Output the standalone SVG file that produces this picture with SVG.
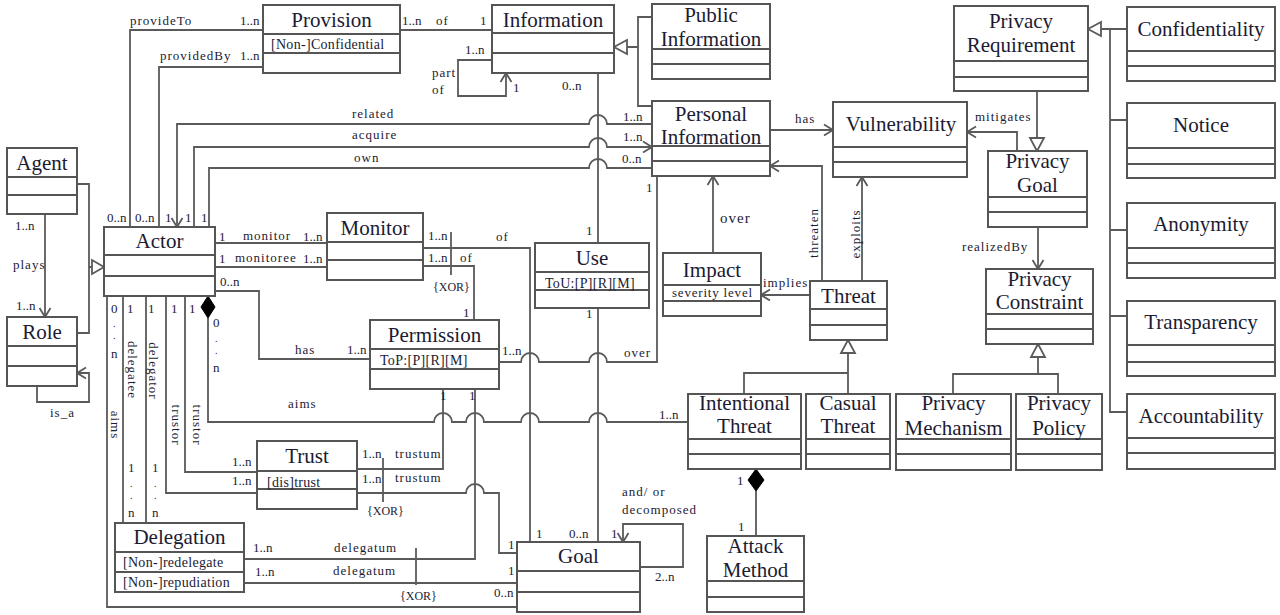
<svg xmlns="http://www.w3.org/2000/svg" width="1280" height="615" viewBox="0 0 1280 615">
<defs>
<style>
.box rect{fill:#fff;stroke:#555;stroke-width:2}
.box line{stroke:#555;stroke-width:2}
text{font-family:"Liberation Serif","Times New Roman",serif;fill:#1b1b33}
.nm{font-size:21px;text-anchor:middle}
.at{font-size:14px;letter-spacing:0.3px}
.sv{font-size:13px;letter-spacing:0.8px}
.lb{font-size:13px;letter-spacing:1px}
.mu{font-size:13px}
.dt{font-size:10px}
.xr{font-size:12px}
.rt{font-size:13px;letter-spacing:1px;text-anchor:middle;dominant-baseline:central}
.cn path,.cn line{fill:none;stroke:#5a5a5a;stroke-width:1.8}
.cn .tri{fill:#fff;stroke:#5a5a5a;stroke-width:1.8}
.cn .dia{fill:#000;stroke:#000;stroke-width:1}
.ar{marker-end:url(#arr)}
</style>
<marker id="arr" markerUnits="userSpaceOnUse" markerWidth="12" markerHeight="14" viewBox="0 0 12 14" refX="10" refY="7" orient="auto">
<path d="M1,1.5 L10,7 L1,12.5" fill="none" stroke="#5a5a5a" stroke-width="1.8"/>
</marker>
</defs>
<rect width="1280" height="615" fill="#fff"/>

<g class="cn" id="connectors">
<path d="M263,30 H130 V227"/>
<path d="M263,67 H159 V227"/>
<path d="M400,30 H492"/>
<path class="ar" d="M492,60 H458 V96 H506 V73"/>
<path d="M626,47 H638 M652,17 H638 V106 H652"/>
<polygon class="tri" points="614,47 627,40 627,54"/>
<path class="ar" d="M652,124 H607 a9,9 0 0 0 -18,0 H177 V227"/>
<path class="ar" d="M194,227 V147 H589 a9,9 0 0 1 18,0 H652"/>
<path d="M209,227 V168 H589 a9,9 0 0 1 18,0 H652"/>
<path d="M598,73 V243"/>
<path d="M598,308 V542"/>
<path class="ar" d="M770,130 H833"/>
<path class="ar" d="M713,253 V176"/>
<path class="ar" d="M822,281 V166 H770"/>
<path class="ar" d="M862,281 V177"/>
<path class="ar" d="M810,295 H761"/>
<path class="ar" d="M1017,151 V132 H967"/>
<path d="M1037,91 V138"/>
<polygon class="tri" points="1037,151 1030,138 1044,138"/>
<path class="ar" d="M1038,227 V269"/>
<polygon class="tri" points="1088,29 1101,22 1101,36"/>
<path d="M1101,29 H1127 M1110,29 V412 H1127 M1110,120 H1127 M1110,230 H1127 M1110,316 H1127"/>
<polygon class="tri" points="1038,344 1031,357 1045,357"/>
<path d="M1038,357 V374 M953,394 V374 H1058 V394"/>
<polygon class="tri" points="848,340 841,353 855,353"/>
<path d="M848,353 V394 M744,394 V373 H848"/>
<path d="M756,491 V536"/>
<polygon class="dia" points="756,469 764,480 756,491 748,480"/>
<path class="ar" d="M45,214 V317"/>
<polygon class="tri" points="104,267 92,260 92,274"/>
<path d="M92,267 H89 M77,184 H89 V333 H77"/>
<path class="ar" d="M37,386 V402 H89 V373 H77"/>
<path d="M215,243 H327"/>
<path d="M215,267 H327"/>
<path d="M423,248 H530 V542"/>
<path d="M423,266 H474 V320"/>
<line x1="451" y1="232" x2="451" y2="275"/>
<path d="M215,291 H259 V359 H370"/>
<path d="M499,362 H521 a9,9 0 0 1 18,0 H589 a9,9 0 0 1 18,0 H657 V176"/>
<path d="M208,318 V422 H434 a9,9 0 0 1 18,0 H466 a9,9 0 0 1 18,0 H521 a9,9 0 0 1 18,0 H589 a9,9 0 0 1 18,0 H688"/>
<polygon class="dia" points="208,296 215,307 208,318 201,307"/>
<path d="M107,296 V607 H517"/>
<path d="M123,296 V523"/>
<path d="M146,296 V523"/>
<path d="M166,296 V493 H257"/>
<path d="M185,296 V472 H257"/>
<path d="M357,469 H443 V389"/>
<path d="M357,493 H466 a9,9 0 0 1 18,0 H499 V553 H517"/>
<line x1="383" y1="458" x2="383" y2="502"/>
<path d="M244,559 H475 V389"/>
<path d="M244,583 H517"/>
<line x1="416" y1="548" x2="416" y2="585"/>
<path class="ar" d="M640,567 H683 V524 H623 V542"/>
</g>

<g id="provision" class="box"><rect x="263" y="5" width="137" height="68"/><line x1="263" y1="34" x2="400" y2="34"/><line x1="263" y1="53" x2="400" y2="53"/><text class="nm" x="331.5" y="27">Provision</text><text class="at" x="271" y="49">[Non-]Confidential</text></g>
<g id="information" class="box"><rect x="492" y="5" width="122" height="68"/><line x1="492" y1="33" x2="614" y2="33"/><line x1="492" y1="53" x2="614" y2="53"/><text class="nm" x="553" y="27">Information</text></g>
<g id="publicInformation" class="box"><rect x="652" y="4" width="118" height="75"/><line x1="652" y1="49" x2="770" y2="49"/><line x1="652" y1="64" x2="770" y2="64"/><text class="nm" x="711" y="22">Public</text><text class="nm" x="711" y="46">Information</text></g>
<g id="personalInformation" class="box"><rect x="652" y="101" width="118" height="75"/><line x1="652" y1="146" x2="770" y2="146"/><line x1="652" y1="161" x2="770" y2="161"/><text class="nm" x="711" y="121">Personal</text><text class="nm" x="711" y="144">Information</text></g>
<g id="privacyRequirement" class="box"><rect x="954" y="6" width="134" height="85"/><line x1="954" y1="61" x2="1088" y2="61"/><line x1="954" y1="77" x2="1088" y2="77"/><text class="nm" x="1021" y="28">Privacy</text><text class="nm" x="1021" y="52">Requirement</text></g>
<g id="confidentiality" class="box"><rect x="1127" y="7" width="148" height="74"/><line x1="1127" y1="51" x2="1275" y2="51"/><line x1="1127" y1="66" x2="1275" y2="66"/><text class="nm" x="1201" y="36">Confidentiality</text></g>
<g id="notice" class="box"><rect x="1127" y="103" width="148" height="75"/><line x1="1127" y1="148" x2="1275" y2="148"/><line x1="1127" y1="164" x2="1275" y2="164"/><text class="nm" x="1201" y="132">Notice</text></g>
<g id="vulnerability" class="box"><rect x="833" y="102" width="134" height="75"/><line x1="833" y1="147" x2="967" y2="147"/><line x1="833" y1="162" x2="967" y2="162"/><text class="nm" x="901" y="131">Vulnerability</text></g>
<g id="privacyGoal" class="box"><rect x="988" y="151" width="99" height="76"/><line x1="988" y1="197" x2="1087" y2="197"/><line x1="988" y1="212" x2="1087" y2="212"/><text class="nm" x="1037.5" y="168">Privacy</text><text class="nm" x="1037.5" y="192">Goal</text></g>
<g id="privacyConstraint" class="box"><rect x="986" y="269" width="107" height="75"/><line x1="986" y1="314" x2="1093" y2="314"/><line x1="986" y1="329" x2="1093" y2="329"/><text class="nm" x="1039.5" y="286">Privacy</text><text class="nm" x="1039.5" y="309">Constraint</text></g>
<g id="anonymity" class="box"><rect x="1127" y="203" width="148" height="75"/><line x1="1127" y1="248" x2="1275" y2="248"/><line x1="1127" y1="263" x2="1275" y2="263"/><text class="nm" x="1201" y="231">Anonymity</text></g>
<g id="transparency" class="box"><rect x="1127" y="301" width="148" height="75"/><line x1="1127" y1="345" x2="1275" y2="345"/><line x1="1127" y1="362" x2="1275" y2="362"/><text class="nm" x="1201" y="329">Transparency</text></g>
<g id="accountability" class="box"><rect x="1127" y="394" width="148" height="75"/><line x1="1127" y1="438" x2="1275" y2="438"/><line x1="1127" y1="453" x2="1275" y2="453"/><text class="nm" x="1201" y="423">Accountability</text></g>
<g id="threat" class="box"><rect x="810" y="281" width="77" height="59"/><line x1="810" y1="309" x2="887" y2="309"/><line x1="810" y1="325" x2="887" y2="325"/><text class="nm" x="848.5" y="303">Threat</text></g>
<g id="impact" class="box"><rect x="663" y="253" width="98" height="63"/><line x1="663" y1="285" x2="761" y2="285"/><line x1="663" y1="301" x2="761" y2="301"/><text class="nm" x="712" y="277">Impact</text><text class="sv" x="672" y="297">severity level</text></g>
<g id="use" class="box"><rect x="535" y="243" width="114" height="65"/><line x1="535" y1="272" x2="649" y2="272"/><line x1="535" y1="290" x2="649" y2="290"/><text class="nm" x="592" y="265">Use</text><text class="at" x="545" y="288">ToU:[P][R][M]</text></g>
<g id="monitor" class="box"><rect x="327" y="213" width="96" height="67"/><line x1="327" y1="242" x2="423" y2="242"/><line x1="327" y1="260" x2="423" y2="260"/><text class="nm" x="375" y="235">Monitor</text></g>
<g id="actor" class="box"><rect x="104" y="227" width="111" height="69"/><line x1="104" y1="255" x2="215" y2="255"/><line x1="104" y1="276" x2="215" y2="276"/><text class="nm" x="159.5" y="248">Actor</text></g>
<g id="agent" class="box"><rect x="7" y="148" width="70" height="66"/><line x1="7" y1="177" x2="77" y2="177"/><line x1="7" y1="195" x2="77" y2="195"/><text class="nm" x="42" y="170">Agent</text></g>
<g id="role" class="box"><rect x="7" y="317" width="70" height="69"/><line x1="7" y1="346" x2="77" y2="346"/><line x1="7" y1="366" x2="77" y2="366"/><text class="nm" x="42" y="339">Role</text></g>
<g id="permission" class="box"><rect x="370" y="320" width="129" height="69"/><line x1="370" y1="349" x2="499" y2="349"/><line x1="370" y1="369" x2="499" y2="369"/><text class="nm" x="434.5" y="342">Permission</text><text class="at" x="380" y="365">ToP:[P][R][M]</text></g>
<g id="trust" class="box"><rect x="257" y="441" width="100" height="68"/><line x1="257" y1="471" x2="357" y2="471"/><line x1="257" y1="489" x2="357" y2="489"/><text class="nm" x="307" y="463">Trust</text><text class="at" x="267" y="487">[dis]trust</text></g>
<g id="delegation" class="box"><rect x="115" y="523" width="129" height="69"/><line x1="115" y1="552" x2="244" y2="552"/><line x1="115" y1="572" x2="244" y2="572"/><text class="nm" x="179.5" y="544">Delegation</text><text class="at" x="123" y="567">[Non-]redelegate</text><text class="at" x="123" y="587">[Non-]repudiation</text></g>
<g id="goal" class="box"><rect x="517" y="542" width="123" height="70"/><line x1="517" y1="571" x2="640" y2="571"/><line x1="517" y1="592" x2="640" y2="592"/><text class="nm" x="578.5" y="563">Goal</text></g>
<g id="intentionalThreat" class="box"><rect x="688" y="394" width="113" height="75"/><line x1="688" y1="439" x2="801" y2="439"/><line x1="688" y1="454" x2="801" y2="454"/><text class="nm" x="744.5" y="410">Intentional</text><text class="nm" x="744.5" y="433">Threat</text></g>
<g id="casualThreat" class="box"><rect x="806" y="394" width="84" height="75"/><line x1="806" y1="439" x2="890" y2="439"/><line x1="806" y1="454" x2="890" y2="454"/><text class="nm" x="848" y="410">Casual</text><text class="nm" x="848" y="433">Threat</text></g>
<g id="privacyMechanism" class="box"><rect x="896" y="394" width="115" height="76"/><line x1="896" y1="439" x2="1011" y2="439"/><line x1="896" y1="454" x2="1011" y2="454"/><text class="nm" x="953.5" y="410">Privacy</text><text class="nm" x="953.5" y="435">Mechanism</text></g>
<g id="privacyPolicy" class="box"><rect x="1016" y="394" width="86" height="76"/><line x1="1016" y1="439" x2="1102" y2="439"/><line x1="1016" y1="454" x2="1102" y2="454"/><text class="nm" x="1059" y="410">Privacy</text><text class="nm" x="1059" y="435">Policy</text></g>
<g id="attackMethod" class="box"><rect x="707" y="536" width="97" height="76"/><line x1="707" y1="581" x2="804" y2="581"/><line x1="707" y1="597" x2="804" y2="597"/><text class="nm" x="755.5" y="553">Attack</text><text class="nm" x="755.5" y="577">Method</text></g>

<g id="labels">
<text class="lb" x="130" y="25">provideTo</text>
<text class="mu" x="240" y="25">1..n</text>
<text class="lb" x="160" y="60">providedBy</text>
<text class="mu" x="240" y="60">1..n</text>
<text class="mu" x="402" y="25">1..n</text>
<text class="lb" x="436" y="25">of</text>
<text class="mu" x="480" y="25">1</text>
<text class="mu" x="465" y="54">1..n</text>
<text class="lb" x="432" y="77">part</text>
<text class="lb" x="432" y="94">of</text>
<text class="mu" x="513" y="92">1</text>
<text class="mu" x="562" y="90">0..n</text>
<text class="lb" x="352" y="118">related</text>
<text class="lb" x="352" y="139">acquire</text>
<text class="lb" x="354" y="162">own</text>
<text class="mu" x="623" y="121">1..n</text>
<text class="mu" x="623" y="141">1..n</text>
<text class="mu" x="622" y="163">0..n</text>
<text class="mu" x="646" y="192">1</text>
<text class="lb" x="795" y="123">has</text>
<text class="lb" x="975" y="121">mitigates</text>
<text class="lb" x="720" y="223" style="font-size:15px">over</text>
<text class="rt" x="813" y="233" transform="rotate(-90 813 233)">threaten</text>
<text class="rt" x="855" y="234" transform="rotate(-90 855 234)">exploits</text>
<text class="lb" x="763" y="287">implies</text>
<text class="lb" x="962" y="251">realizedBy</text>
<text class="mu" x="107" y="222">0..n</text>
<text class="mu" x="135" y="222">0..n</text>
<text class="mu" x="165" y="222">1</text>
<text class="mu" x="185" y="222">1</text>
<text class="mu" x="201" y="222">1</text>
<text class="mu" x="15" y="230">1..n</text>
<text class="lb" x="13" y="269">plays</text>
<text class="mu" x="16" y="310">1..n</text>
<text class="lb" x="50" y="417">is_a</text>
<text class="mu" x="219" y="241">1</text>
<text class="lb" x="243" y="240">monitor</text>
<text class="mu" x="303" y="241">1..n</text>
<text class="mu" x="219" y="263">1</text>
<text class="lb" x="235" y="262">monitoree</text>
<text class="mu" x="303" y="263">1..n</text>
<text class="mu" x="428" y="240">1..n</text>
<text class="lb" x="496" y="241">of</text>
<text class="mu" x="428" y="262">1..n</text>
<text class="lb" x="460" y="262">of</text>
<text class="xr" x="433" y="291">{XOR}</text>
<text class="mu" x="463" y="317">1</text>
<text class="mu" x="586" y="235">1</text>
<text class="mu" x="586" y="318">1</text>
<text class="mu" x="220" y="286">0..n</text>
<text class="lb" x="295" y="354">has</text>
<text class="mu" x="347" y="354">1..n</text>
<text class="mu" x="502" y="355">1..n</text>
<text class="lb" x="624" y="357">over</text>
<text class="mu" x="440" y="400">1</text>
<text class="mu" x="469" y="400">1</text>
<text class="mu" x="111" y="313">0</text>
<text class="dt" x="113" y="327">.</text>
<text class="dt" x="113" y="339">.</text>
<text class="mu" x="111" y="358">n</text>
<text class="mu" x="127" y="313">1</text>
<text class="mu" x="148" y="313">1</text>
<text class="mu" x="171" y="313">1</text>
<text class="mu" x="189" y="313">1</text>
<text class="mu" x="213" y="327">0</text>
<text class="dt" x="215" y="342">.</text>
<text class="dt" x="215" y="354">.</text>
<text class="mu" x="213" y="372">n</text>
<text class="lb" x="288" y="408">aims</text>
<text class="mu" x="659" y="419">1..n</text>
<text class="rt" x="115" y="425" transform="rotate(90 115 425)">aims</text>
<text class="rt" x="132" y="370" transform="rotate(90 132 370)">delegatee</text>
<text class="rt" x="153" y="371" transform="rotate(90 153 371)">delegator</text>
<text class="rt" x="176" y="425" transform="rotate(90 176 425)">trustor</text>
<text class="rt" x="197" y="425" transform="rotate(90 197 425)">trustor</text>
<text class="mu" x="128" y="472">1</text>
<text class="dt" x="130" y="487">.</text>
<text class="dt" x="130" y="499">.</text>
<text class="mu" x="128" y="517">n</text>
<text class="mu" x="152" y="472">1</text>
<text class="dt" x="154" y="487">.</text>
<text class="dt" x="154" y="499">.</text>
<text class="mu" x="152" y="517">n</text>
<text class="mu" x="232" y="466">1..n</text>
<text class="mu" x="232" y="485">1..n</text>
<text class="mu" x="362" y="458">1..n</text>
<text class="lb" x="395" y="458">trustum</text>
<text class="mu" x="362" y="483">1..n</text>
<text class="lb" x="395" y="482">trustum</text>
<text class="xr" x="367" y="515">{XOR}</text>
<text class="mu" x="253" y="552">1..n</text>
<text class="lb" x="334" y="552">delegatum</text>
<text class="mu" x="255" y="576">1..n</text>
<text class="lb" x="333" y="575">delegatum</text>
<text class="xr" x="400" y="600">{XOR}</text>
<text class="mu" x="508" y="549">1</text>
<text class="mu" x="508" y="575">1</text>
<text class="mu" x="494" y="597">0..n</text>
<text class="mu" x="536" y="538">1</text>
<text class="mu" x="569" y="538">0..n</text>
<text class="mu" x="611" y="538">1</text>
<text class="mu" x="655" y="581">2..n</text>
<text class="lb" x="622" y="496">and/ or</text>
<text class="lb" x="622" y="514">decomposed</text>
<text class="mu" x="737" y="485">1</text>
<text class="mu" x="738" y="531">1</text>
</g>
</svg>
